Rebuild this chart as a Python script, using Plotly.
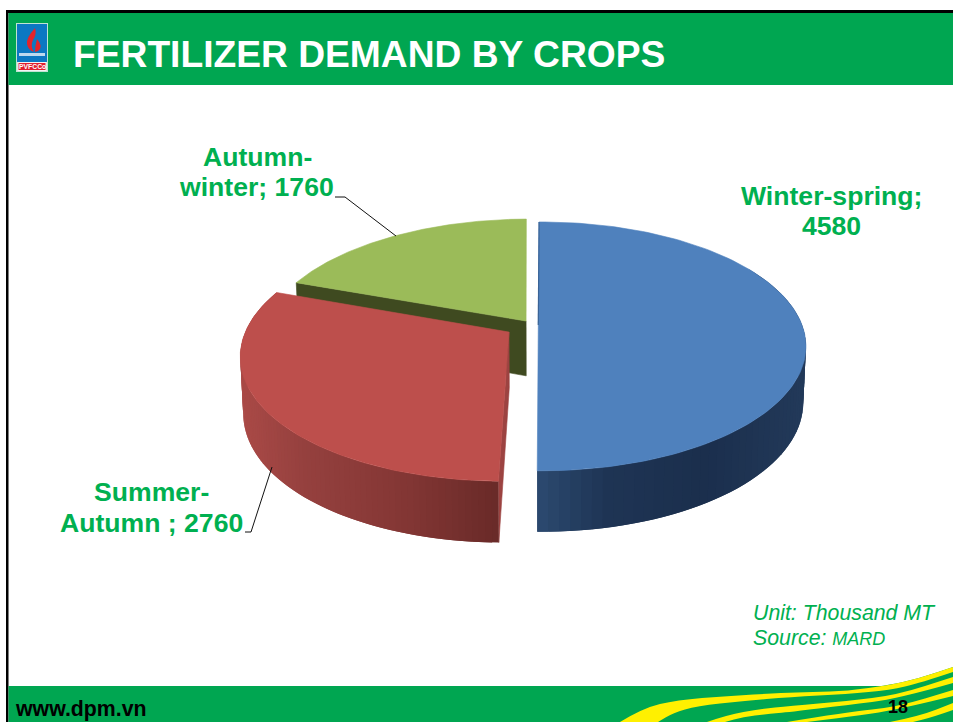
import math
import plotly.graph_objects as go

# ---- data ----
categories = ["Winter-spring", "Summer-Autumn", "Autumn-winter"]
values = [4580, 2760, 1760]
label_first_lines = ["Winter-spring;", "Summer-", "Autumn-"]
label_second_prefix = ["", "Autumn ; ", "winter; "]
title_text = "FERTILIZER DEMAND BY CROPS"
footer_text = "www.dpm.vn"
page_number = "18"
note_lines = ["Unit: Thousand MT", "Source: "]
note_source = "MARD"

# ---- style ----
GREEN_BAND = "#00a651"
GREEN_TEXT = "#00b050"
FONT = "Liberation Sans"
top_colors = ["#4f81bd", "#bd4f4c", "#9bbb59"]
wall_stops = [
    [(533, (44, 74, 112)), (600, (31, 53, 85)), (700, (27, 47, 77)), (805, (35, 58, 90))],
    [(241, (170, 74, 71)), (300, (150, 65, 63)), (400, (132, 55, 53)), (500, (104, 42, 40))],
    [(0, (63, 74, 32)), (953, (63, 74, 32))],
]
offsets = [(0, 0), (-31.7, 0.058), (-15, -0.033)]
apex_shift = [-2.7, 0, 0]
START_ANGLE = math.radians(-0.5)

# perspective model of the tilted disc
XV, CY, K, A, R = 541, 325, 0.172, 702, 261


def project(t, r, du, dv):
    u = r * math.sin(t)
    v = -r * math.cos(t) + dv
    s = 1 / (1 - K * v)
    return XV + (R * u + du) * s, CY + A * (s - 1), v


def bottom(x, y, v):
    return XV + (x - XV) * 0.99, y + 55 + 6 * v


def wall_color(stops, x):
    if x <= stops[0][0]:
        c = stops[0][1]
    elif x >= stops[-1][0]:
        c = stops[-1][1]
    else:
        for (x0, c0), (x1, c1) in zip(stops, stops[1:]):
            if x0 <= x <= x1:
                f = (x - x0) / (x1 - x0)
                c = tuple(a + (b - a) * f for a, b in zip(c0, c1))
                break
    return "rgb(%d,%d,%d)" % tuple(c)


def poly(xs, ys, color, width=0.6):
    return go.Scatter(
        x=xs, y=ys, mode="lines", fill="toself", fillcolor=color,
        line=dict(color=color, width=width), hoverinfo="skip", showlegend=False,
    )


total = sum(values)
spans = []
a0 = START_ANGLE
for val in values:
    a1 = a0 + val / total * 2 * math.pi
    spans.append((a0, a1))
    a0 = a1

traces = []


def rim(i, n=120):
    a, b = spans[i]
    du, dv = offsets[i]
    return [project(a + (b - a) * j / n, 1, du, dv) for j in range(n + 1)]


def top_face(i):
    du, dv = offsets[i]
    ax, ay, _ = project(0, 0, du + apex_shift[i], dv)
    pts = rim(i)
    return poly([ax] + [p[0] for p in pts] + [ax], [ay] + [p[1] for p in pts] + [ay], top_colors[i])


def outer_wall(i, n=90):
    # each quad spans the next one as well, so that no seam shows between them
    pts = rim(i, n)
    for j, p in enumerate(pts[:-1]):
        q = pts[min(j + 2, n)]
        m = pts[j + 1]
        if max(p[2], q[2]) < -0.45:
            continue
        bp = bottom(*p)
        bq = bottom(*q)
        traces.append(poly([p[0], q[0], bq[0], bp[0], p[0]],
                           [p[1], q[1], bq[1], bp[1], p[1]],
                           wall_color(wall_stops[i], m[0]), width=0))


def edge_wall(i, t, color):
    du, dv = offsets[i]
    c = project(0, 0, du, dv)
    e = project(t, 1, du, dv)
    bc = bottom(*c)
    be = bottom(*e)
    traces.append(poly([c[0], e[0], be[0], bc[0], c[0]],
                       [c[1], e[1], be[1], bc[1], c[1]], color))


# back to front: green, red, blue
edge_wall(2, spans[2][0], "#3f4a20")
traces.append(top_face(2))
edge_wall(1, spans[1][0], "#9c4341")
outer_wall(1)
traces.append(top_face(1))
outer_wall(0)
traces.append(top_face(0))
bc = project(0, 0, offsets[0][0] + apex_shift[0], offsets[0][1])
bt = project(spans[0][0], 1, *offsets[0])
traces.append(go.Scatter(x=[bt[0], bc[0]], y=[bt[1], bc[1]], mode="lines",
                         line=dict(color="#3a6396", width=1.2), hoverinfo="skip", showlegend=False))

# leader lines
traces.append(go.Scatter(x=[335, 345, 396], y=[197, 197, 236], mode="lines",
                         line=dict(color="#111111", width=1), hoverinfo="skip", showlegend=False))
traces.append(go.Scatter(x=[245, 251, 272], y=[532, 532, 467], mode="lines",
                         line=dict(color="#111111", width=1), hoverinfo="skip", showlegend=False))


def smooth(points):
    d = "M %g %g" % points[0]
    for i in range(1, len(points) - 1):
        mx = (points[i][0] + points[i + 1][0]) / 2
        my = (points[i][1] + points[i + 1][1]) / 2
        d += " Q %g %g %g %g" % (points[i][0], points[i][1], mx, my)
    d += " L %g %g" % points[-1]
    return d


def ribbon(upper, lower):
    return smooth(upper) + " " + smooth(lower[::-1]).replace("M", "L", 1) + " Z"


shapes = []


def rect(x0, y0, x1, y1, color, line=None):
    shapes.append(dict(type="rect", xref="x", yref="y", x0=x0, y0=y0, x1=x1, y1=y1,
                       fillcolor=color, line=dict(width=1 if line else 0, color=line or color),
                       layer="below"))


def path(d, color):
    shapes.append(dict(type="path", xref="x", yref="y", path=d, fillcolor=color,
                       line=dict(width=0), layer="below"))


# frame, header
rect(6, 10, 953, 13, "#000000")
rect(6, 10, 8.5, 722, "#000000")
rect(8.5, 13, 953, 85, GREEN_BAND)

# footer band and swooshes
rect(8.5, 686, 953, 722, GREEN_BAND)
s1_up = [(620, 722), (643, 708), (677, 700), (727, 696), (780, 693), (813, 692), (847, 691), (890, 685), (920, 678), (953, 667)]
s1_lo = [(658, 722), (673, 713), (697, 706), (743, 701), (790, 697), (847, 694), (890, 690), (920, 683), (953, 672)]
s2_up = [(707, 722), (727, 715), (760, 709), (790, 706), (847, 701), (897, 695), (953, 677)]
s2_lo = [(725, 722), (743, 717), (767, 714), (790, 712), (847, 705), (897, 699), (953, 683)]
s3_up = [(787, 722), (847, 712), (897, 707), (953, 690)]
s3_lo = [(807, 722), (847, 717), (897, 710), (953, 696)]
s4_up = [(890, 722), (920, 716), (953, 703)]
s4_lo = [(913, 722), (933, 717), (953, 710)]
path(ribbon(s1_up[6:], [(847, 700), (953, 700)]), GREEN_BAND)
for up, lo in [(s1_up, s1_lo), (s2_up, s2_lo), (s3_up, s3_lo), (s4_up, s4_lo)]:
    path(ribbon(up, lo), "#fff000")

# logo
rect(16, 23, 48, 72, "#bfe3d2")
rect(17, 24, 47, 62, "#0b78c2")
rect(17.5, 62, 46.5, 71, "#f4f4f4")
rect(18.5, 63, 45.5, 70, "#e0202e")
path("M 35 28 Q 26 38 27 44 Q 28 50 34 52 Q 30 46 33 40 Q 37 34 35 28 Z", "#e3242b")
path("M 37 39 Q 42 45 40 49 Q 38 52 35 52 Q 35 46 37 39 Z", "#e3242b")
rect(19, 53, 45, 56, "#bcd9ee")

ann = []


def text(x, y, s, size, color, bold=True, italic=False, anchor="center"):
    if bold:
        s = "<b>%s</b>" % s
    if italic:
        s = "<i>%s</i>" % s
    ann.append(dict(x=x, y=y, xref="x", yref="y", text=s, showarrow=False, xanchor=anchor,
                    yanchor="middle", font=dict(family=FONT, size=size, color=color),
                    align="center"))


text(71, 54, title_text, 37.2, "#ffffff", anchor="left")
label_pos = [((831, 196), (831, 226)), ((151, 492), (151, 523)), ((257, 157), (256, 187))]
for first, prefix, val, (p1, p2) in zip(label_first_lines, label_second_prefix, values, label_pos):
    text(p1[0], p1[1], first, 26.6, GREEN_TEXT)
    text(p2[0], p2[1], prefix + str(val), 26.6, GREEN_TEXT)
text(751, 613, note_lines[0], 21.3, GREEN_TEXT, bold=False, italic=True, anchor="left")
text(751, 638, note_lines[1] + '<span style="font-size:18px">%s</span>' % note_source,
     21.3, GREEN_TEXT, bold=False, italic=True, anchor="left")
text(13, 709, footer_text, 21.3, "#000000", anchor="left")
text(898, 707, page_number, 18, "#000000")
text(32, 66.5, "PVFCCo", 6.8, "#ffffff")

fig = go.Figure(traces)
fig.update_layout(
    width=953, height=722, margin=dict(l=0, r=0, t=0, b=0),
    paper_bgcolor="#ffffff", plot_bgcolor="#ffffff",
    xaxis=dict(range=[0, 953], visible=False, fixedrange=True),
    yaxis=dict(range=[722, 0], visible=False, fixedrange=True),
    shapes=shapes, annotations=ann, showlegend=False,
)
fig.write_html("out.html", config={"displayModeBar": False},
               post_script="document.body.style.margin='0';document.body.style.overflow='hidden';")
